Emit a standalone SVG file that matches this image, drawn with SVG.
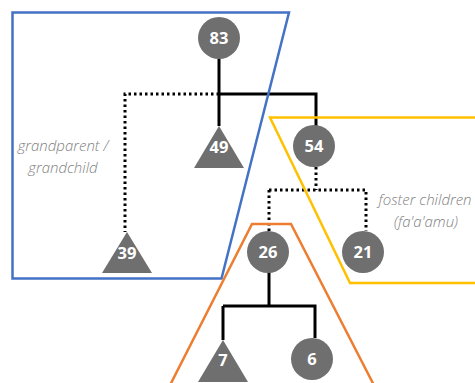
<svg xmlns="http://www.w3.org/2000/svg" width="475" height="383" viewBox="0 0 475 383">
<style>
.node{fill:#6f6f6f}
.lbl{font-family:"Open Sans",sans-serif;font-weight:bold;font-size:16.5px;fill:#fff;text-anchor:middle}
.note{font-family:"Open Sans",sans-serif;font-style:italic;font-weight:300;font-size:15px;fill:#7f7f7f;text-anchor:middle}
.solid{stroke:#000;stroke-width:3;fill:none}
.dot{stroke:#000;stroke-width:3;fill:none;stroke-dasharray:2.5 3}
.grp{fill:none;stroke-width:2.5}
</style>
<rect width="475" height="383" fill="#fff"/>
<g id="connectors">
<path class="solid" d="M219 58V126M219 94H316V126"/>
<path class="dot" d="M219 94H125V232"/>
<path class="dot" d="M316 167V190M269 190H366V231M269 190V231"/>
<path class="solid" d="M269 272V306M223 306H315V338M223 306V340"/>
</g>
<g id="groups">
<polygon id="group-blue" class="grp" stroke="#4472C4" points="12.5,12.5 289,12.5 221.5,278.5 12.5,278.5"/>
<polygon id="group-yellow" class="grp" stroke="#FFC000" points="270,117.5 478,117.5 478,283 350,283"/>
<polyline id="group-orange" class="grp" stroke="#ED7D31" points="165,395 252,224 291,224 379,395"/>
</g>
<g id="n83"><circle class="node" cx="219" cy="38" r="21"/><text class="lbl" x="219" y="44">83</text></g>
<g id="n49"><polygon class="node" points="219,126 244,168 194,168"/><text class="lbl" x="219" y="153">49</text></g>
<g id="n39"><polygon class="node" points="127,232 152,273 102,273"/><text class="lbl" x="127" y="259">39</text></g>
<g id="n54"><circle class="node" cx="314" cy="146" r="21"/><text class="lbl" x="314" y="152">54</text></g>
<g id="n26"><circle class="node" cx="268" cy="252" r="21"/><text class="lbl" x="268" y="258">26</text></g>
<g id="n21"><circle class="node" cx="363" cy="252" r="21"/><text class="lbl" x="363" y="258">21</text></g>
<g id="n7"><polygon class="node" points="223,340 248,382 198,382"/><text class="lbl" x="223" y="366">7</text></g>
<g id="n6"><circle class="node" cx="312" cy="359" r="21"/><text class="lbl" x="312" y="365">6</text></g>
<g id="labels">
<text class="note" x="63" y="151">grandparent /</text>
<text class="note" x="63" y="173">grandchild</text>
<text class="note" x="425" y="205">foster children</text>
<text class="note" x="426" y="227">(fa'a'amu)</text>
</g>
</svg>
